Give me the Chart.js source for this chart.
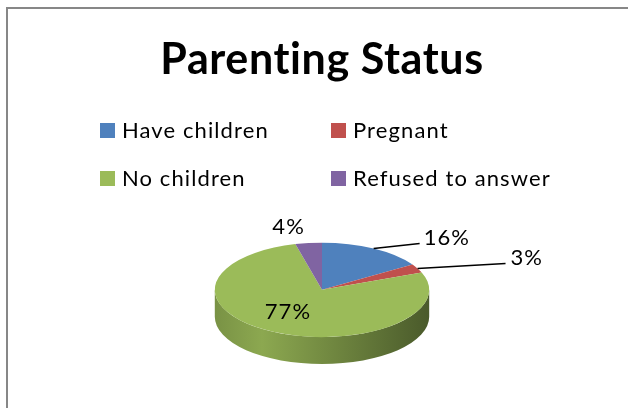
<!DOCTYPE html>
<html>
<head>
<meta charset="utf-8">
<script src="https://cdn.jsdelivr.net/npm/chart.js@4/dist/chart.umd.min.js"></script>
<style>
  html, body { margin: 0; padding: 0; background: #fff; }
  #wrap { width: 628px; height: 408px; position: relative; }
</style>
</head>
<body>
<div id="wrap"><canvas id="pieChart" width="628" height="408"></canvas></div>
<script>
// chart data
const categories = ["Have children", "Pregnant", "No children", "Refused to answer"];
const percentages = [16, 3, 77, 4];
const sliceColors = ["#4f81bd", "#c0504d", "#9bbb59", "#8064a2"];

// look of the fake 3D pie
const tilt = 0.44;      // vertical squash of the top face
const depth = 27;       // thickness of the side
// where each percentage label sits, relative to the slice edge
const labelPlace = [
    { line: [46, -5], dx: 4, dy: -6 },
    { line: [88, -5], dx: 5, dy: -5 },
    { inside: 0.7, dx: 0, dy: -7 },
    { dx: -20, dy: -16 }
];

function shade(hex, f) {
    const n = parseInt(hex.slice(1), 16);
    const r = Math.round(((n >> 16) & 255) * f);
    const g = Math.round(((n >> 8) & 255) * f);
    const b = Math.round((n & 255) * f);
    return "rgb(" + r + "," + g + "," + b + ")";
}

const pie3d = {
    id: "pie3d",
    beforeDraw(chart) {
        const ctx = chart.ctx;
        // a little spacing so the title is as wide as the original (and no "ti" ligature)
        ctx.letterSpacing = "0.6px";
        // frame round the chart
        ctx.save();
        ctx.strokeStyle = "#878787";
        ctx.lineWidth = 2;
        ctx.beginPath();
        ctx.moveTo(7, chart.height);
        ctx.lineTo(7, 8);
        ctx.lineTo(chart.width, 8);
        ctx.stroke();
        ctx.restore();
    },
    beforeDatasetsDraw(chart) {
        const ctx = chart.ctx;
        const arcs = chart.getDatasetMeta(0).data;
        const cx = arcs[0].x, cy = arcs[0].y, R = arcs[0].outerRadius;

        // side wall, only the front half is visible
        arcs.forEach((arc, i) => {
            let s = arc.startAngle, e = arc.endAngle;
            [0, 2 * Math.PI, -2 * Math.PI].forEach(shift => {
                const a = Math.max(s, shift), b = Math.min(e, shift + Math.PI);
                if (b <= a) return;
                const col = sliceColors[i];
                const grad = ctx.createLinearGradient(cx - R, 0, cx + R, 0);
                grad.addColorStop(0, shade(col, 0.78));
                grad.addColorStop(0.22, shade(col, 0.9));
                grad.addColorStop(0.55, shade(col, 0.72));
                grad.addColorStop(1, shade(col, 0.48));
                ctx.save();
                ctx.beginPath();
                ctx.ellipse(cx, cy, R, R * tilt, 0, a - shift, b - shift, false);
                ctx.ellipse(cx, cy + depth, R, R * tilt, 0, b - shift, a - shift, true);
                ctx.closePath();
                ctx.fillStyle = grad;
                ctx.fill();
                ctx.restore();
            });
        });

        // squash the top face
        ctx.save();
        ctx.translate(0, cy);
        ctx.scale(1, tilt);
        ctx.translate(0, -cy);
    },
    afterDatasetsDraw(chart) {
        const ctx = chart.ctx;
        ctx.restore();

        const arcs = chart.getDatasetMeta(0).data;
        ctx.save();
        ctx.font = "22px Lato";
        ctx.letterSpacing = "1px";
        ctx.fillStyle = "#000";
        ctx.strokeStyle = "#000";
        ctx.lineWidth = 1.5;
        ctx.textBaseline = "middle";
        arcs.forEach((arc, i) => {
            const p = labelPlace[i];
            const mid = (arc.startAngle + arc.endAngle) / 2;
            const f = p.inside || 1;
            const ex = arc.x + arc.outerRadius * f * Math.cos(mid);
            const ey = arc.y + arc.outerRadius * tilt * f * Math.sin(mid);
            const txt = percentages[i] + "%";
            if (p.line) {
                const lx = ex + p.line[0], ly = ey + p.line[1];
                ctx.beginPath();
                ctx.moveTo(ex, ey);
                ctx.lineTo(lx, ly);
                ctx.stroke();
                ctx.textAlign = "left";
                ctx.fillText(txt, lx + p.dx, ly + p.dy);
            } else {
                ctx.textAlign = "center";
                ctx.fillText(txt, ex + p.dx, ey + p.dy);
            }
        });
        ctx.restore();
    },
    afterDraw(chart) {
        // legend in a 2 x 2 grid
        const ctx = chart.ctx;
        ctx.save();
        ctx.font = "22px Lato";
        ctx.letterSpacing = "1.1px";
        ctx.fillStyle = "#000";
        ctx.textBaseline = "alphabetic";
        ctx.textAlign = "left";
        categories.forEach((name, i) => {
            const col = i % 2, row = Math.floor(i / 2);
            const x = 100 + col * 231;
            const y = 123 + row * 48;
            ctx.fillStyle = sliceColors[i];
            ctx.fillRect(x, y, 15, 15);
            ctx.fillStyle = "#000";
            ctx.fillText(name, x + 22, y + 15);
        });
        ctx.restore();
    }
};

new Chart(document.getElementById("pieChart"), {
    type: "pie",
    data: {
        labels: categories,
        datasets: [{
            data: percentages,
            backgroundColor: sliceColors,
            borderWidth: 0,
            hoverBorderWidth: 0,
            offset: 0,
            hoverOffset: 0,
            clip: false
        }]
    },
    options: {
        responsive: false,
        animation: false,
        layout: { padding: { left: 16, right: 0, top: 0, bottom: 11 } },
        plugins: {
            legend: { display: false },
            tooltip: { enabled: false },
            title: {
                display: true,
                text: "Parenting Status",
                color: "#000",
                font: { family: "Lato", size: 43, weight: "bold", lineHeight: 1.2 },
                padding: { top: 34, bottom: 97 }
            }
        }
    },
    plugins: [pie3d]
});
</script>
</body>
</html>
